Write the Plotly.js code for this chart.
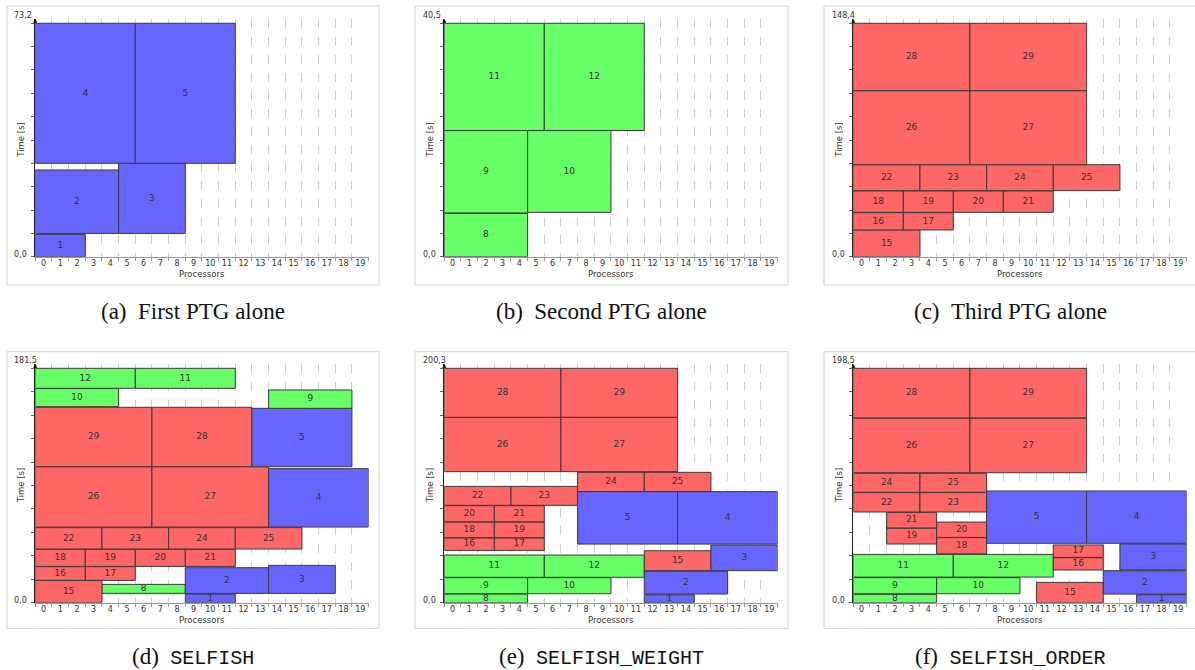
<!DOCTYPE html>
<html>
<head>
<meta charset="utf-8">
<script src="https://cdn.plot.ly/plotly-3.0.1.min.js"></script>
<style>html,body{margin:0;padding:0;background:#fff;}#chart{width:1195px;height:670px;}</style>
</head>
<body>
<div id="chart"></div>
<script>
// ---------- DATA (task id, first processor, processor count, start time, end time) ----------
// (a) First PTG alone
const aIds = [1, 2, 3, 4, 5];
const aProc = [0, 0, 5, 0, 6];
const aNum = [3, 5, 4, 6, 6];
const aStart = [0, 7.3, 7.3, 29.3, 29.3];
const aEnd = [7.0, 27.2, 29.3, 73.2, 73.2];
const aMax = 73.2;

// (b) Second PTG alone
const bIds = [8, 9, 10, 11, 12];
const bProc = [0, 0, 5, 0, 6];
const bNum = [5, 5, 5, 6, 6];
const bStart = [0, 7.6, 7.7, 21.9, 21.9];
const bEnd = [7.5, 21.9, 21.9, 40.5, 40.5];
const bMax = 40.5;

// (c) Third PTG alone
const cIds = [15, 16, 17, 18, 19, 20, 21, 22, 23, 24, 25, 26, 27, 28, 29];
const cProc = [0, 0, 3, 0, 3, 6, 9, 0, 4, 8, 12, 0, 7, 0, 7];
const cNum = [4, 3, 3, 3, 3, 3, 3, 4, 4, 4, 4, 7, 7, 7, 7];
const cStart = [0, 17.0, 17.0, 28.2, 28.2, 28.2, 28.2, 42.0, 42.0, 42.0, 42.0, 58.5, 58.5, 105.6, 105.6];
const cEnd = [17.0, 28.0, 28.0, 41.8, 41.8, 41.8, 41.8, 58.5, 58.5, 58.5, 58.5, 105.6, 105.6, 148.4, 148.4];
const cMax = 148.4;

// (d) SELFISH
const dIds = [1, 8, 15, 2, 3, 16, 17, 18, 19, 20, 21, 22, 23, 24, 25, 26, 27, 4, 29, 28, 5, 10, 9, 12, 11];
const dProc = [9, 4, 0, 9, 14, 0, 3, 0, 3, 6, 9, 0, 4, 8, 12, 0, 7, 14, 0, 7, 13, 0, 14, 0, 6];
const dNum = [3, 5, 4, 5, 4, 3, 3, 3, 3, 3, 3, 4, 4, 4, 4, 7, 7, 6, 7, 6, 6, 5, 5, 6, 6];
const dStart = [0, 7.2, 0, 7.2, 7.2, 17.3, 17.3, 28.1, 28.1, 28.1, 28.1, 41.6, 41.6, 41.6, 41.6, 58.6, 58.6, 58.6, 105.3, 105.3, 105.3, 151.8, 150.5, 166.0, 166.0];
const dEnd = [6.7, 14.2, 17.3, 27.1, 28.9, 27.9, 27.9, 41.3, 41.3, 41.3, 41.3, 58.1, 58.1, 58.1, 58.1, 105.3, 105.3, 103.8, 151.3, 151.3, 150.5, 165.8, 164.7, 181.5, 181.5];
const dMax = 181.5;

// (e) SELFISH_WEIGHT
const eIds = [8, 9, 10, 11, 12, 1, 2, 15, 3, 16, 17, 18, 19, 20, 21, 22, 23, 5, 4, 24, 25, 26, 27, 28, 29];
const eProc = [0, 0, 5, 0, 6, 12, 12, 12, 16, 0, 3, 0, 3, 0, 3, 0, 4, 8, 14, 8, 12, 0, 7, 0, 7];
const eNum = [5, 5, 5, 6, 6, 3, 5, 4, 4, 3, 3, 3, 3, 3, 3, 4, 4, 6, 6, 4, 4, 7, 7, 7, 7];
const eStart = [0, 7.7, 7.7, 21.7, 21.7, 0, 7.4, 27.4, 27.4, 44.7, 44.7, 55.6, 55.6, 69.2, 69.2, 83.2, 83.2, 50.1, 50.1, 95.0, 95.0, 112.0, 112.0, 158.4, 158.4];
const eEnd = [7.4, 21.4, 21.4, 40.7, 40.7, 6.8, 26.8, 44.4, 49.3, 55.3, 55.3, 68.9, 68.9, 82.9, 82.9, 99.4, 99.4, 94.9, 94.9, 111.4, 111.4, 158.4, 158.4, 200.3, 200.3];
const eMax = 200.3;

// (f) SELFISH_ORDER
const fIds = [8, 9, 10, 11, 12, 15, 1, 2, 16, 17, 3, 18, 19, 20, 21, 5, 4, 22, 23, 24, 25, 26, 27, 28, 29];
const fProc = [0, 0, 5, 0, 6, 11, 17, 15, 12, 12, 16, 5, 2, 5, 2, 8, 14, 0, 4, 0, 4, 0, 7, 0, 7];
const fNum = [5, 5, 5, 6, 6, 4, 3, 5, 3, 3, 4, 3, 3, 3, 3, 6, 6, 4, 4, 4, 4, 7, 7, 7, 7];
const fStart = [0, 7.6, 7.6, 21.7, 21.7, 0, 0, 7.3, 27.7, 38.4, 27.7, 41.5, 49.7, 55.3, 63.3, 50.3, 50.3, 76.8, 76.8, 93.5, 93.5, 110.1, 110.1, 156.5, 156.5];
const fEnd = [7.1, 21.2, 21.2, 40.9, 40.9, 17.2, 6.8, 27.1, 38.1, 48.9, 49.7, 55.1, 63.0, 68.3, 76.5, 94.6, 94.6, 93.2, 93.2, 109.6, 109.6, 156.2, 156.2, 198.5, 198.5];
const fMax = 198.5;

const processorLabels = ['0','1','2','3','4','5','6','7','8','9','10','11','12','13','14','15','16','17','18','19'];
const captionLabels = ['(a)', '(b)', '(c)', '(d)', '(e)', '(f)'];
const captionTexts = ['First PTG alone', 'Second PTG alone', 'Third PTG alone', 'SELFISH', 'SELFISH_WEIGHT', 'SELFISH_ORDER'];

// ---------- LAYOUT / STYLE ----------
const W = 1195, H = 670;
const PX = x => x / W;
const PY = y => 1 - y / H;
const colXL = [35.3, 444.3, 853.3];
const colW = 333.3;
const colFrame = [[7, 379], [415, 788], [824, 1197]];
const rows = [
  {yb: 256.7, yt: 23.3, ytop: 18.8, frame: [6, 285], cap: 311, xt: 273.5},
  {yb: 602.7, yt: 368.3, ytop: 363.8, frame: [351.7, 628.3], cap: 657, xt: 619.5}
];
const BLUE = '#6666ff', GREEN = '#66ff66', RED = '#ff6666';
const colorOf = id => id <= 5 ? BLUE : (id <= 12 ? GREEN : RED);
const labelFont = {family: 'DejaVu Sans', size: 8, color: '#333'};

const panels = [
  {ids: aIds, p: aProc, n: aNum, s: aStart, e: aEnd, M: aMax},
  {ids: bIds, p: bProc, n: bNum, s: bStart, e: bEnd, M: bMax},
  {ids: cIds, p: cProc, n: cNum, s: cStart, e: cEnd, M: cMax},
  {ids: dIds, p: dProc, n: dNum, s: dStart, e: dEnd, M: dMax},
  {ids: eIds, p: eProc, n: eNum, s: eStart, e: eEnd, M: eMax},
  {ids: fIds, p: fProc, n: fNum, s: fStart, e: fEnd, M: fMax}
];

const fmt = v => v.toFixed(1).replace('.', ',');

const traces = [];
const layout = {
  width: W, height: H,
  margin: {l: 0, r: 0, t: 0, b: 0},
  paper_bgcolor: '#fff', plot_bgcolor: 'rgba(0,0,0,0)',
  showlegend: false,
  barmode: 'overlay',
  hovermode: false,
  font: labelFont,
  shapes: [], annotations: []
};

panels.forEach((P, i) => {
  const r = rows[Math.floor(i / 3)];
  const c = i % 3;
  const k = i + 1;
  const xa = 'x' + (k === 1 ? '' : k), ya = 'y' + (k === 1 ? '' : k);
  const xName = 'xaxis' + (k === 1 ? '' : k), yName = 'yaxis' + (k === 1 ? '' : k);
  const xl = colXL[c];
  const topR = P.M * (r.yb - r.ytop) / (r.yb - r.yt);

  const xc = P.p.map((p, j) => p + P.n[j] / 2 - 0.5);
  traces.push({
    type: 'bar', xaxis: xa, yaxis: ya,
    x: xc, width: P.n, base: P.s,
    y: P.e.map((v, j) => v - P.s[j]),
    marker: {color: P.ids.map(colorOf), line: {color: '#3a3a3a', width: 1}},
    textposition: 'none', hoverinfo: 'skip'
  });
  traces.push({
    type: 'scatter', mode: 'text', xaxis: xa, yaxis: ya,
    x: xc, y: P.e.map((v, j) => (v + P.s[j]) / 2),
    text: P.ids.map(String),
    textfont: {family: 'DejaVu Sans', size: 9, color: '#333'},
    hoverinfo: 'skip', cliponaxis: false
  });

  layout[xName] = {
    domain: [PX(xl), PX(xl + colW)], anchor: ya,
    range: [-0.5, 19.5], fixedrange: true,
    tickvals: processorLabels.map(Number), ticktext: processorLabels,
    ticks: '', showgrid: false, zeroline: false,
    showline: true, linecolor: '#999', linewidth: 1.2,
    tickfont: labelFont, ticklabelstandoff: -2,
    minor: {tick0: 0.5, dtick: 1, ticks: 'outside', ticklen: 3, tickcolor: '#999',
            showgrid: true, gridcolor: '#cfcfcf', griddash: 'dash', gridwidth: 1}
  };
  const yt = [];
  for (let q = 0; q <= 10; q++) yt.push(P.M * q / 10);
  layout[yName] = {
    domain: [PY(r.yb), PY(r.ytop)], anchor: xa,
    range: [0, topR], fixedrange: true,
    tickvals: yt, showticklabels: false,
    ticks: 'outside', ticklen: 3, tickcolor: '#666',
    showgrid: false, zeroline: false,
    showline: true, linecolor: '#222', linewidth: 1.2
  };

  // frame
  layout.shapes.push({type: 'rect', xref: 'paper', yref: 'paper',
    x0: PX(colFrame[c][0]), x1: PX(colFrame[c][1]), y0: PY(r.frame[1]), y1: PY(r.frame[0]),
    line: {color: '#d2d2d2', width: 1}, fillcolor: 'rgba(0,0,0,0)', layer: 'below'});

  // y end labels
  layout.annotations.push({xref: 'paper', yref: ya, x: PX(xl - 23.5), y: P.M, yshift: 8,
    xanchor: 'left', yanchor: 'middle', text: fmt(P.M), showarrow: false, font: labelFont});
  layout.annotations.push({xref: 'paper', yref: ya, x: PX(xl - 23.5), y: 0, yshift: 2.5,
    xanchor: 'left', yanchor: 'middle', text: fmt(0), showarrow: false, font: labelFont});
  // arrow at top of time axis
  layout.annotations.push({xref: xa, yref: ya, x: -0.5, y: topR, ax: 0, ay: 6,
    text: '', showarrow: true, arrowhead: 2, arrowsize: 0.8, arrowwidth: 1, arrowcolor: '#111'});
  // axis titles
  layout.annotations.push({xref: 'paper', yref: 'paper', x: PX(xl + colW / 2), y: PY(r.xt),
    xanchor: 'center', yanchor: 'middle', text: 'Processors', showarrow: false,
    font: {family: 'DejaVu Sans', size: 8.5, color: '#333'}});
  layout.annotations.push({xref: 'paper', yref: 'paper', x: PX(xl - 14.6), y: PY((r.yb + r.yt) / 2),
    xanchor: 'center', yanchor: 'middle', text: 'Time [s]', textangle: -90, showarrow: false,
    font: {family: 'DejaVu Sans', size: 8.5, color: '#333'}});
  // caption
  const capCenter = (colFrame[c][0] + Math.min(colFrame[c][1], 1197)) / 2;
  const body = i < 3 ? captionTexts[i]
    : '<span style="font-family:\'Liberation Mono\';font-size:20px">' + captionTexts[i] + '</span>';
  layout.annotations.push({xref: 'paper', yref: 'paper', x: PX(capCenter), y: PY(r.cap),
    xanchor: 'center', yanchor: 'middle', showarrow: false,
    text: captionLabels[i] + '\u2002' + body,
    font: {family: 'Liberation Serif', size: 23, color: '#111'}});
});

Plotly.newPlot('chart', traces, layout, {displayModeBar: false, staticPlot: true});
</script>
</body>
</html>
